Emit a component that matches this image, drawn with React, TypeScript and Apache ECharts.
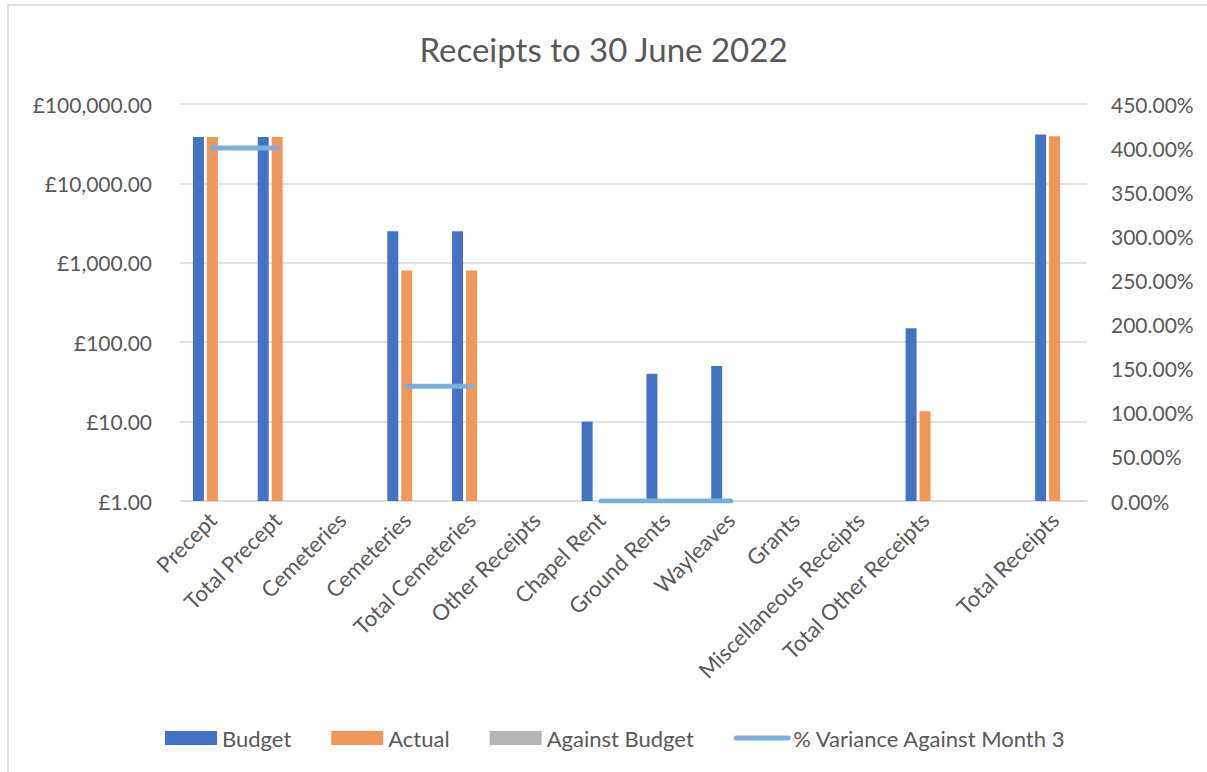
import React, { useEffect, useRef } from "react";
import * as echarts from "echarts";

const categories = [
  "Precept",
  "Total Precept",
  "Cemeteries",
  "Cemeteries",
  "Total Cemeteries",
  "Other Receipts",
  "Chapel Rent",
  "Ground Rents",
  "Wayleaves",
  "Grants",
  "Miscellaneous Receipts",
  "Total Other Receipts",
  "",
  "Total Receipts",
];

const budget: (number | null)[] = [38500, 38500, null, 2500, 2500, null, 10, 40, 50, null, null, 150, null, 41150];
const actual: (number | null)[] = [38500, 38500, null, 800, 800, null, null, null, null, null, null, 13.5, null, 39314];
const againstBudget: (number | null)[] = [null, null, null, null, null, null, null, null, null, null, null, null, null, null];
const varianceMonth3: (number | null)[] = [4.0, 4.0, null, 1.3, 1.3, null, 0, 0, 0, null, null, null, null, null];

const fmtMoney = (v: number) => {
  const fixed = v.toFixed(2);
  const [ip, dp] = fixed.split(".");
  const withCommas = ip.replace(/\B(?=(\d{3})+(?!\d))/g, ",");
  return "£" + withCommas + "." + dp;
};

const FONT = "Lato";
const TXT = "#595959";

export default function App() {
  const ref = useRef<HTMLDivElement>(null);
  useEffect(() => {
    document.body.style.margin = "0";
    if (!ref.current) return;
    const chart = echarts.init(ref.current, undefined, { renderer: "svg" });
    const nul = (a: (number | null)[]) => a.map((v) => (v === null ? "-" : v));
    chart.setOption({
      animation: false,
      backgroundColor: "#ffffff",
      textStyle: { fontFamily: FONT },
      title: {
        text: "Receipts to 30 June 2022",
        left: "center",
        top: 27,
        textStyle: { fontFamily: FONT, fontSize: 33, fontWeight: "normal", color: TXT },
      },
      graphic: [
        {
          type: "polyline",
          shape: { points: [[8, 772], [8, 5], [1207, 5]] },
          style: { stroke: "#d9d9d9", lineWidth: 1.5, fill: "none" },
          silent: true,
        },
      ],
      legend: {
        left: 165,
        top: 727,
        padding: 0,
        itemWidth: 52,
        itemHeight: 14,
        itemGap: 40,
        textStyle: { fontFamily: FONT, fontSize: 22, color: TXT },
        data: [
          { name: "Budget", icon: "rect" },
          { name: "Actual", icon: "rect" },
          { name: "Against Budget", icon: "rect" },
          {
            name: "% Variance Against Month 3",
            itemStyle: { opacity: 0 },
            lineStyle: { width: 5, color: "#7CAFDD", cap: "round" },
          },
        ],
      },
      grid: { left: 180, right: 120, top: 104, bottom: 271, containLabel: false },
      xAxis: {
        type: "category",
        data: categories,
        axisTick: { show: false },
        axisLine: { lineStyle: { color: "#d9d9d9", width: 1.5 } },
        axisLabel: {
          rotate: 45,
          interval: 0,
          fontFamily: FONT,
          fontSize: 22,
          color: TXT,
          margin: 15,
        },
      },
      yAxis: [
        {
          type: "log",
          logBase: 10,
          min: 1,
          max: 100000,
          axisLine: { show: false },
          axisTick: { show: false },
          splitLine: { lineStyle: { color: "#d9d9d9", width: 1.5 } },
          axisLabel: {
            fontFamily: FONT,
            fontSize: 21,
            color: TXT,
            margin: 28,
            formatter: (v: number) => fmtMoney(v),
          },
        },
        {
          type: "value",
          min: 0,
          max: 4.5,
          interval: 0.5,
          position: "right",
          axisLine: { show: false },
          axisTick: { show: false },
          splitLine: { show: false },
          axisLabel: {
            fontFamily: FONT,
            fontSize: 21,
            color: TXT,
            margin: 24,
            formatter: (v: number) => (v * 100).toFixed(2) + "%",
          },
        },
      ],
      series: [
        {
          name: "Budget",
          type: "bar",
          data: nul(budget),
          barWidth: 11,
          barGap: "27%",
          itemStyle: { color: "#4472C4" },
        },
        {
          name: "Actual",
          type: "bar",
          data: nul(actual),
          barWidth: 11,
          barGap: "27%",
          itemStyle: { color: "#F1975A" },
        },
        {
          name: "Against Budget",
          type: "bar",
          data: nul(againstBudget),
          barWidth: 11,
          barGap: "27%",
          itemStyle: { color: "#B4B4B4" },
        },
        {
          name: "% Variance Against Month 3",
          type: "line",
          yAxisIndex: 1,
          data: nul(varianceMonth3),
          connectNulls: false,
          symbol: "none",
          itemStyle: { color: "#7CAFDD" },
          lineStyle: { color: "#7CAFDD", width: 5, cap: "round" },
        },
      ],
    });
    return () => chart.dispose();
  }, []);
  return <div ref={ref} style={{ width: 1207, height: 772 }} />;
}
